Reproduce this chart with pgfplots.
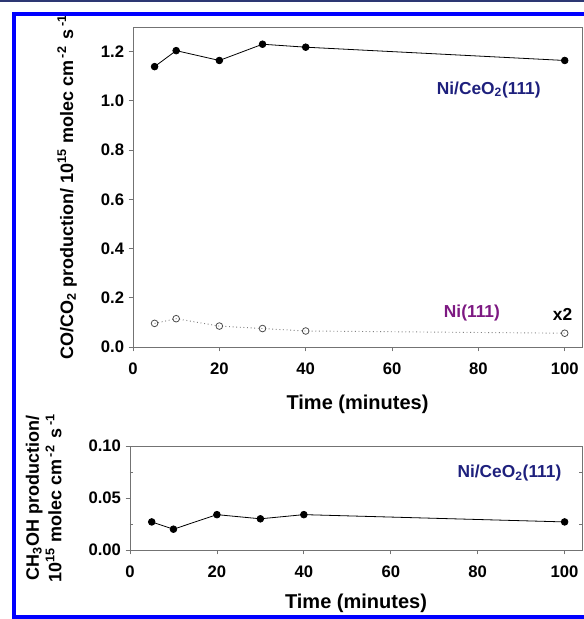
\documentclass[border=0pt]{standalone}
\usepackage{pgfplots}
\pgfplotsset{compat=1.18}
\usepackage{fontspec}
\setmainfont{Liberation Sans}
\definecolor{frameblue}{RGB}{0,0,255}
\definecolor{topnavy}{RGB}{45,55,115}
\definecolor{lblnavy}{RGB}{30,32,125}
\definecolor{lblpurple}{RGB}{125,25,130}
\definecolor{axgray}{RGB}{115,115,115}
\newcommand{\tsub}[1]{\textsubscript{#1}}
\newcommand{\tsup}[1]{\textsuperscript{#1}}
\newcommand{\gsup}[1]{\hspace{2pt}\textsuperscript{#1}\hspace{1.5pt}}
\begin{document}
\begin{tikzpicture}[x=0.75pt,y=0.75pt]
% page = 584 x 619 px, 1 px = 0.75 pt, y counted from the bottom
\useasboundingbox (0,0) rectangle (584,619);
\pgfplotsset{
  every axis/.append style={
    scale only axis, xmin=0, xmax=104,
    axis line style={axgray, line width=0.6pt},
    tick style={axgray, line width=0.6pt},
    tick align=outside, tick pos=left,
    major tick length=3.2pt,
    xtick={0,20,...,100},
    font=\bfseries,
    tick label style={font=\fontsize{12.5}{14}\selectfont\bfseries},
    xticklabel style={yshift=-5.5pt},
    /pgf/number format/assume math mode=true,
    xlabel={Time (minutes)},
    xlabel style={font=\fontsize{15}{17}\selectfont\bfseries, anchor=center},
    ylabel style={font=\fontsize{13.5}{17}\selectfont\bfseries, anchor=center},
  },
}
\begin{axis}[
  at={(99.75pt,204pt)}, anchor=south west,
  width=336.75pt, height=240pt,
  ymin=0, ymax=1.3, ytick={0,0.2,...,1.2},
  yticklabel style={/pgf/number format/.cd, fixed, fixed zerofill, precision=1},
  ylabel={CO/CO\tsub{2} production/ 10\tsup{15} molec cm\gsup{-2} s\gsup{-1}},
  ylabel style={at={(axis description cs:-0.147,0.5)}},
  xlabel style={at={(axis description cs:0.5,-0.179)}},
]
\addplot[black, line width=0.6pt, mark=*, mark size=2.5pt] coordinates {
  (5,1.139) (10,1.204) (20,1.164) (30,1.23) (40,1.218) (100,1.164)};
\addplot[gray, dotted, line width=0.7pt, mark=o, mark size=2.5pt,
  mark options={solid, draw=black!70, fill=white, line width=0.6pt}] coordinates {
  (5,0.096) (10,0.115) (20,0.085) (30,0.075) (40,0.065) (100,0.056)};
\node[text=lblnavy, font=\fontsize{13}{15}\selectfont\bfseries] at (axis cs:82.4,1.046) {Ni/CeO\tsub{2}(111)};
\node[text=lblpurple, font=\fontsize{13}{15}\selectfont\bfseries] at (axis cs:78.5,0.14) {Ni(111)};
\node[text=black, font=\fontsize{13}{15}\selectfont\bfseries] at (axis cs:99.5,0.133) {x2};
\end{axis}
\begin{axis}[
  at={(97.5pt,51.75pt)}, anchor=south west,
  width=339pt, height=78pt,
  ymin=0, ymax=0.1, ytick={0,0.05,0.1},
  extra y ticks={0.025,0.075}, extra y tick labels={},
  extra y tick style={ytick pos=both, tick align=inside, major tick length=2.5pt},
  yticklabel style={/pgf/number format/.cd, fixed, fixed zerofill, precision=2},
  ylabel={CH\tsub{3}OH production/\\10\tsup{15} molec cm\gsup{-2} s\gsup{-1}},
  ylabel style={align=center, at={(axis description cs:-0.191,0.5)}},
  xlabel style={at={(axis description cs:0.5,-0.51)}},
]
\addplot[black, line width=0.6pt, mark=*, mark size=2.5pt] coordinates {
  (5,0.027) (10,0.020) (20,0.034) (30,0.030) (40,0.034) (100,0.027)};
\node[text=lblnavy, font=\fontsize{13}{15}\selectfont\bfseries] at (axis cs:87.3,0.074) {Ni/CeO\tsub{2}(111)};
\end{axis}
% journal frame
\draw[topnavy, line width=1.5pt] (0,618) -- (584,618);
\draw[frameblue, line width=3pt] (14,0) -- (14,605) -- (584,605);
\draw[frameblue, line width=3pt] (14,2) -- (584,2);
\end{tikzpicture}
\end{document}
